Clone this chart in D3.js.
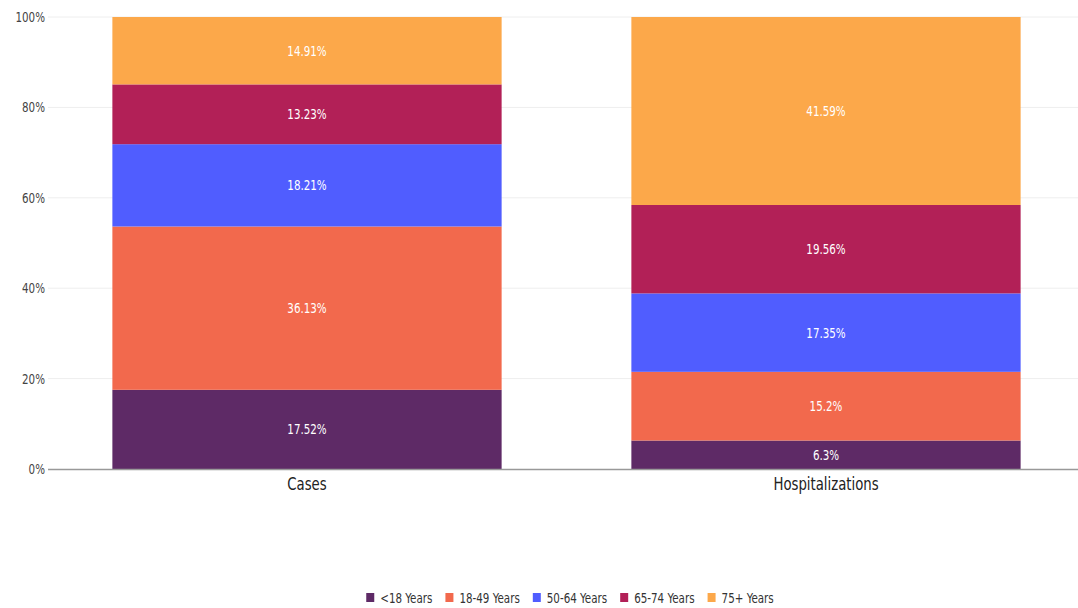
<!DOCTYPE html>
<html><head><meta charset="utf-8">
<script src="https://cdn.jsdelivr.net/npm/d3@7"></script>
<style>
body{margin:0;background:#fff;}
text{font-family:"DejaVu Sans Condensed","Liberation Sans Narrow","DejaVu Sans",sans-serif;}
</style></head>
<body><svg id="c" width="1078" height="608"></svg>
<script>
const categories = ["Cases", "Hospitalizations"];
const seriesNames = ["<18 Years", "18-49 Years", "50-64 Years", "65-74 Years", "75+ Years"];
const seriesColors = ["#5e2a66", "#f2694d", "#505dff", "#b22057", "#fca84a"];
const under18 = [17.52, 6.3];
const age18to49 = [36.13, 15.2];
const age50to64 = [18.21, 17.35];
const age65to74 = [13.23, 19.56];
const age75plus = [14.91, 41.59];
const yTicks = [0, 20, 40, 60, 80, 100];

const SX = 0.82; // horizontal squeeze of text
const seriesValues = [under18, age18to49, age50to64, age65to74, age75plus];
const rows = categories.map((c, i) => {
  const r = {cat: c};
  seriesNames.forEach((s, k) => r[s] = seriesValues[k][i]);
  return r;
});

const svg = d3.select("#c");
const x = d3.scaleBand().domain(categories).range([47.5, 1085.5]).paddingInner(0.25).paddingOuter(0.125);
const y = d3.scaleLinear().domain([0, 100]).range([469, 17]);

// gridlines
svg.append("g").selectAll("line").data(yTicks.filter(t => t > 0)).join("line")
  .attr("x1", 48).attr("x2", 1078)
  .attr("y1", d => y(d)).attr("y2", d => y(d))
  .attr("stroke", "#eeeeee").attr("stroke-width", 1);

const stack = d3.stack().keys(seriesNames)(rows);
const g = svg.append("g");
stack.forEach((layer, k) => {
  g.append("g").selectAll("rect").data(layer).join("rect")
    .attr("x", d => x(d.data.cat))
    .attr("width", x.bandwidth())
    .attr("y", d => y(d[1]))
    .attr("height", d => y(d[0]) - y(d[1]))
    .attr("fill", seriesColors[k]);
  g.append("g").selectAll("text").data(layer).join("text")
    .attr("transform", d => `translate(${x(d.data.cat) + x.bandwidth() / 2},${(y(d[0]) + y(d[1])) / 2}) scale(${SX},1)`)
    .attr("dy", "0.35em")
    .attr("text-anchor", "middle")
    .attr("fill", "#ffffff")
    .attr("font-size", 14)
    .text(d => (d[1] - d[0]).toFixed(2).replace(/\.?0+$/, "") + "%");
});

// y axis labels
const ya = svg.append("g").attr("transform", "translate(48,0)")
  .call(d3.axisLeft(y).tickValues(yTicks).tickSize(0).tickPadding(3).tickFormat(d => d + "%"));
ya.select(".domain").remove();
ya.selectAll("text").attr("font-size", 14).attr("fill", "#444").style("font-family", null)
  .attr("x", -3 / SX).attr("transform", `scale(${SX},1)`);

// x axis
const xa = svg.append("g").attr("transform", "translate(0,469)")
  .call(d3.axisBottom(x).tickSize(0).tickPadding(8));
xa.select(".domain").attr("d", "M48,0.5H1078").attr("stroke", "#999").attr("stroke-width", 1.5);
xa.selectAll("text").attr("font-size", 18).attr("fill", "#222").style("font-family", null)
  .attr("transform", `scale(${SX},1)`);

// legend
const legendItems = seriesNames.map((s, k) => ({s, c: seriesColors[k]}));
const lg = svg.append("g").attr("transform", "translate(0,598)");
const tmp = lg.append("text").attr("font-size", 14);
const widths = legendItems.map(d => { tmp.text(d.s); return tmp.node().getComputedTextLength() * SX; });
tmp.remove();
const itemW = widths.map(w => 8 + 6 + w + 13);
const total = d3.sum(itemW) - 13;
let cx = 570 - total / 2;
legendItems.forEach((d, k) => {
  lg.append("rect").attr("x", cx).attr("y", -5).attr("width", 8).attr("height", 9).attr("fill", d.c);
  lg.append("text").attr("transform", `translate(${cx + 14},0) scale(${SX},1)`).attr("dy", "0.35em")
    .attr("font-size", 14).attr("fill", "#333").text(d.s);
  cx += itemW[k];
});
</script></body></html>
